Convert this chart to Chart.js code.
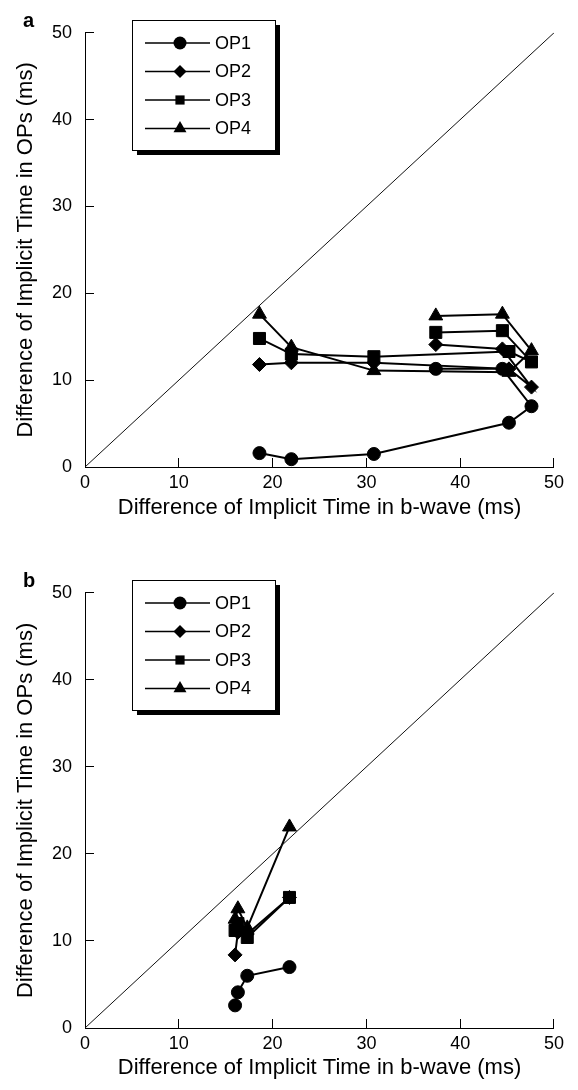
<!DOCTYPE html>
<html><head><meta charset="utf-8">
<script src="https://cdn.jsdelivr.net/npm/chart.js@4.4.0/dist/chart.umd.min.js"></script>
<style>
html,body{margin:0;padding:0;background:#fff;}
#wrap{position:relative;width:578px;height:1090px;overflow:hidden;}
.box{position:absolute;left:0;width:578px;height:530px;}
</style></head><body>
<div id="wrap">
<div class="box" style="top:0"><canvas id="ca"></canvas></div>
<div class="box" style="top:560px"><canvas id="cb"></canvas></div>
</div>
<script>
const seriesNames = ['OP1','OP2','OP3','OP4'];
const pointStyles = ['circle','rectRot','rect','triangle'];
const pointSizes = [6.5, 7, 8.5, 8];
const axisTicks = [0,10,20,30,40,50];
const xTitle = 'Difference of Implicit Time in b-wave (ms)';
const yTitle = 'Difference of Implicit Time in OPs (ms)';

// Panel a (points in time order; b-wave difference shared by all OPs)
const aBwave = [18.6, 22.0, 30.8, 45.2, 47.6, 44.5, 37.4];
const aOP1 = [1.6, 0.9, 1.5, 5.1, 7.0, 11.3, 11.3];
const aOP2 = [11.8, 12.0, 12.0, 11.3, 9.2, 13.6, 14.1];
const aOP3 = [14.8, 13.0, 12.7, 13.3, 12.1, 15.7, 15.5];
const aOP4 = [17.6, 13.8, 11.1, 10.9, 13.4, 17.6, 17.4];

// Panel b
const bBwave = [16.0, 16.3, 17.3, 21.8];
const bOP1 = [2.6, 4.1, 6.0, 7.0];
const bOP2 = [8.4, 11.0, 10.8, 15.0];
const bOP3 = [11.2, 12.0, 10.4, 15.0];
const bOP4 = [12.5, 13.7, 11.5, 23.1];

const diagX = [0, 50];
const diagY = [0, 50];

const FONT = "'Liberation Sans', Arial, sans-serif";

function pts(xs, ys){ return xs.map((x,i)=>({x:x, y:ys[i]})); }

function ds(label, xs, ys, k){
  return {label, data: pts(xs,ys), showLine:true, borderColor:'#000', backgroundColor:'#000',
    borderWidth:2, pointStyle: pointStyles[k], pointRadius: pointSizes[k], pointHoverRadius: pointSizes[k],
    pointBorderWidth:1, pointBorderColor:'#000', pointBackgroundColor:'#000', clip:false};
}

function drawMarker(ctx, style, r, x, y){
  ctx.beginPath();
  if(style==='circle'){ ctx.arc(x,y,r,0,Math.PI*2); }
  else if(style==='rectRot'){ ctx.moveTo(x,y-r); ctx.lineTo(x+r,y); ctx.lineTo(x,y+r); ctx.lineTo(x-r,y); ctx.closePath(); }
  else if(style==='rect'){ const s=r*Math.SQRT1_2; ctx.rect(x-s,y-s,2*s,2*s); }
  else if(style==='triangle'){ ctx.moveTo(x,y-r); ctx.lineTo(x+r*Math.sin(Math.PI/3), y+r*0.5); ctx.lineTo(x-r*Math.sin(Math.PI/3), y+r*0.5); ctx.closePath(); }
  ctx.fill();
}

const boxLegend = {
  id:'boxLegend',
  afterDraw(chart, args, o){
    const ctx = chart.ctx;
    ctx.save();
    const x0=132, y0=20, w=143, h=130, sh=5;
    ctx.fillStyle='#000'; ctx.fillRect(x0+sh, y0+sh, w, h);
    ctx.fillStyle='#fff'; ctx.fillRect(x0, y0, w, h);
    ctx.strokeStyle='#000'; ctx.lineWidth=1; ctx.strokeRect(x0+0.5, y0+0.5, w, h);
    const rows=[43,71.5,100,128.5];
    const lsz=[6.5,6.5,6.5,7.5];
    seriesNames.forEach((n,i)=>{
      const y=rows[i];
      ctx.strokeStyle='#000'; ctx.lineWidth=1.5;
      ctx.beginPath(); ctx.moveTo(145,y); ctx.lineTo(210,y); ctx.stroke();
      ctx.fillStyle='#000';
      drawMarker(ctx, pointStyles[i], lsz[i], 180, y);
      ctx.font = '18px '+FONT; ctx.textBaseline='middle'; ctx.textAlign='left';
      ctx.fillText(n, 215, y+1);
    });
    ctx.font='bold 20px '+FONT; ctx.textBaseline='middle'; ctx.textAlign='left';
    ctx.fillText(o.panel, 23, 21);
    ctx.restore();
  }
};

function makeChart(id, panel, datasets, bottomY){
  const H = 530;
  return new Chart(document.getElementById(id), {
    type:'scatter',
    data:{ datasets: [
      {label:'diag', data: pts(diagX, diagY), showLine:true, borderColor:'#111', borderWidth:1, pointRadius:0, pointHoverRadius:0},
      ...datasets ] },
    options:{
      responsive:true, maintainAspectRatio:false, animation:false,
      layout:{ padding:{ top:18, right:14, left:0, bottom:0 } },
      plugins:{ legend:{display:false}, tooltip:{enabled:false}, boxLegend:{panel} },
      scales:{
        x:{ type:'linear', min:0, max:50,
          afterBuildTicks(s){ s.ticks = axisTicks.map(v=>({value:v})); },
          afterFit(s){ s.height = H - bottomY; },
          grid:{ drawOnChartArea:false, drawTicks:true, tickLength:-9, color:'#000', lineWidth:1 },
          border:{ display:true, color:'#000', width:1 },
          ticks:{ color:'#000', font:{family:FONT, size:18}, padding:14, maxRotation:0, autoSkip:false },
          title:{ display:true, text:xTitle, color:'#000', font:{family:FONT, size:22}, padding:{top:0,bottom:9} }
        },
        y:{ type:'linear', min:0, max:50,
          afterBuildTicks(s){ s.ticks = axisTicks.map(v=>({value:v})); },
          afterFit(s){ s.width = 85; },
          grid:{ drawOnChartArea:false, drawTicks:true, tickLength:-9, color:'#000', lineWidth:1 },
          border:{ display:true, color:'#000', width:1 },
          ticks:{ color:'#000', font:{family:FONT, size:18}, padding:22, autoSkip:false },
          title:{ display:true, text:yTitle, color:'#000', font:{family:FONT, size:22}, padding:{top:13,bottom:0} }
        }
      }
    },
    plugins:[boxLegend]
  });
}

makeChart('ca','a',[
  ds('OP1', aBwave, aOP1, 0),
  ds('OP2', aBwave, aOP2, 1),
  ds('OP3', aBwave, aOP3, 2),
  ds('OP4', aBwave, aOP4, 3)
], 467);
makeChart('cb','b',[
  ds('OP1', bBwave, bOP1, 0),
  ds('OP2', bBwave, bOP2, 1),
  ds('OP3', bBwave, bOP3, 2),
  ds('OP4', bBwave, bOP4, 3)
], 468);
</script>
</body></html>
